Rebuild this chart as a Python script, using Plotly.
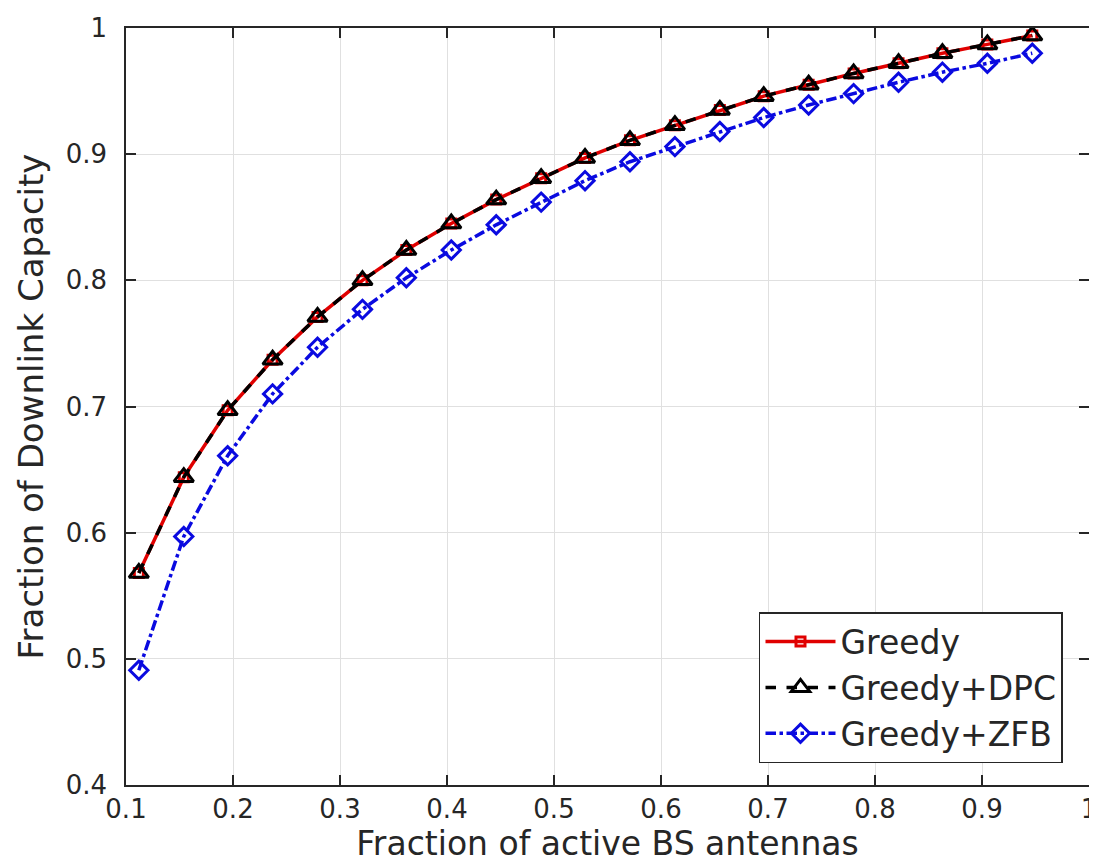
import plotly.graph_objects as go

# Data
frac_antennas = [0.112, 0.154, 0.195, 0.237, 0.279, 0.321, 0.362, 0.404, 0.446, 0.488,
                 0.529, 0.571, 0.613, 0.655, 0.696, 0.738, 0.780, 0.822, 0.863, 0.905, 0.947]
greedy = [0.568, 0.644, 0.697, 0.737, 0.771, 0.800, 0.824, 0.845, 0.864, 0.881,
          0.897, 0.911, 0.923, 0.935, 0.946, 0.955, 0.964, 0.972, 0.980, 0.987, 0.994]
greedy_dpc = [0.568, 0.644, 0.697, 0.737, 0.771, 0.800, 0.824, 0.845, 0.864, 0.881,
              0.897, 0.911, 0.923, 0.935, 0.946, 0.955, 0.964, 0.972, 0.980, 0.987, 0.994]
greedy_zfb = [0.491, 0.597, 0.661, 0.710, 0.747, 0.777, 0.802, 0.824, 0.844, 0.862,
              0.879, 0.894, 0.906, 0.918, 0.929, 0.939, 0.948, 0.957, 0.965, 0.972, 0.980]

x_ticks = [0.1, 0.2, 0.3, 0.4, 0.5, 0.6, 0.7, 0.8, 0.9, 1.0]
x_ticklabels = ["0.1", "0.2", "0.3", "0.4", "0.5", "0.6", "0.7", "0.8", "0.9", "1"]
y_ticks = [0.4, 0.5, 0.6, 0.7, 0.8, 0.9, 1.0]
y_ticklabels = ["0.4", "0.5", "0.6", "0.7", "0.8", "0.9", "1"]

FONT = "DejaVu Sans"
TXT = "#262626"

fig = go.Figure()
fig.add_trace(go.Scatter(
    x=frac_antennas, y=greedy, name="Greedy", mode="lines+markers",
    line=dict(color="#e00000", width=3.5),
    marker=dict(symbol="square-open", size=9, color="#e00000", line=dict(width=3))))
fig.add_trace(go.Scatter(
    x=frac_antennas, y=greedy_dpc, name="Greedy+DPC", mode="lines+markers",
    line=dict(color="black", width=3.5, dash="dash"),
    marker=dict(symbol="triangle-up-open", size=17, color="black", line=dict(width=3))))
fig.add_trace(go.Scatter(
    x=frac_antennas, y=greedy_zfb, name="Greedy+ZFB", mode="lines+markers",
    line=dict(color="#0a0ae0", width=3.5, dash="dashdot"),
    marker=dict(symbol="diamond-open", size=14, color="#0a0ae0", line=dict(width=3))))

axis_common = dict(
    showline=True, linecolor=TXT, linewidth=1.5, mirror="ticks",
    ticks="inside", ticklen=10, tickcolor=TXT, tickwidth=1.5,
    showgrid=True, gridcolor="#e0e0e0", gridwidth=1,
    zeroline=False, tickfont=dict(family=FONT, size=26, color=TXT),
    automargin=False, ticklabeloverflow="allow",
)

fig.update_layout(
    width=1097, height=868,
    margin=dict(l=118, r=16, t=20, b=91),
    paper_bgcolor="white", plot_bgcolor="white",
    font=dict(family=FONT, color=TXT),
    xaxis=dict(range=[0.1, 1.0], tickvals=x_ticks, ticktext=x_ticklabels,
               ticklabelstandoff=0,
               title=dict(text="Fraction of active BS antennas",
                          font=dict(family=FONT, size=33, color=TXT), standoff=4),
               **axis_common),
    yaxis=dict(range=[0.4, 1.0], tickvals=y_ticks, ticktext=y_ticklabels,
               ticklabelstandoff=12,
               title=dict(text="Fraction of Downlink Capacity",
                          font=dict(family=FONT, size=34, color=TXT), standoff=12),
               **axis_common),
    legend=dict(x=0.973, y=0.029, xanchor="right", yanchor="bottom",
                bgcolor="white", bordercolor=TXT, borderwidth=1.5,
                font=dict(family=FONT, size=33, color=TXT),
                itemwidth=70, tracegroupgap=0),
    showlegend=True,
)

fig.write_html("out.html")
